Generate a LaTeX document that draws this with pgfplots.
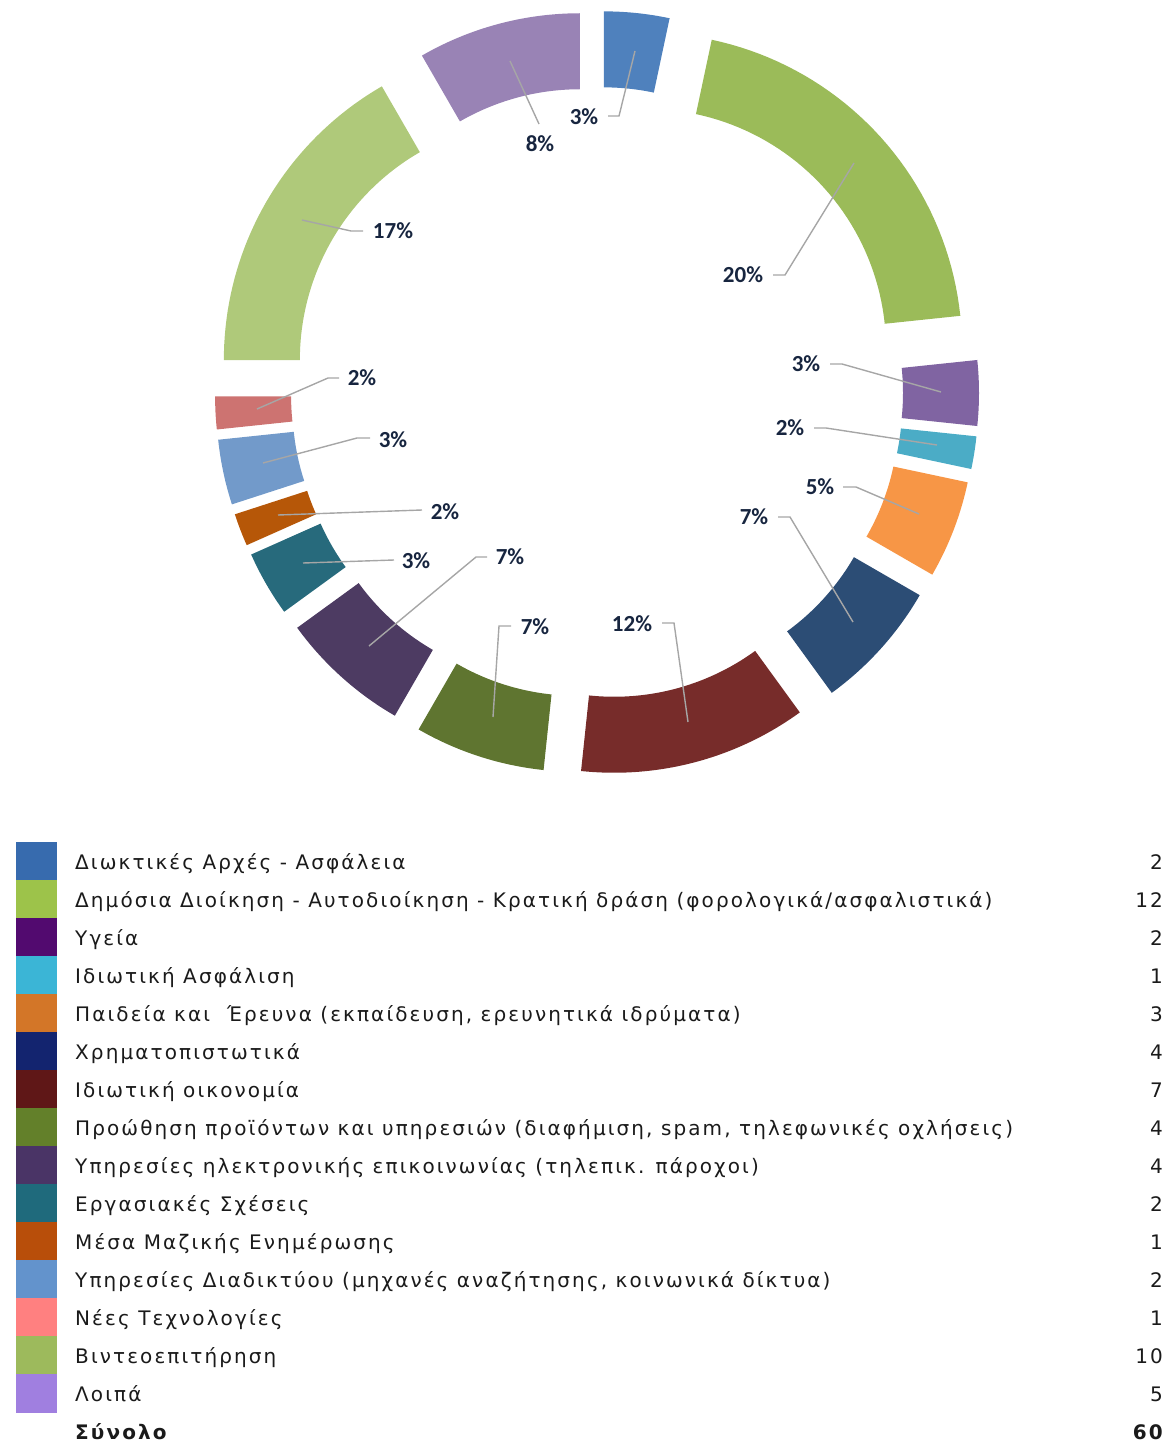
\documentclass[border=0pt]{standalone}
\usepackage{pgfplots}
\pgfplotsset{compat=1.18}
\usepackage{fontspec}
\setmainfont{DejaVu Sans}[LetterSpace=10.5]
\newfontfamily\lblfont{Carlito}
\definecolor{c1}{HTML}{4F81BD}
\definecolor{c2}{HTML}{9BBB59}
\definecolor{c3}{HTML}{8064A2}
\definecolor{c4}{HTML}{4BACC6}
\definecolor{c5}{HTML}{F79646}
\definecolor{c6}{HTML}{2C4D75}
\definecolor{c7}{HTML}{772C2A}
\definecolor{c8}{HTML}{5F7530}
\definecolor{c9}{HTML}{4D3B62}
\definecolor{c10}{HTML}{276A7C}
\definecolor{c11}{HTML}{B65708}
\definecolor{c12}{HTML}{729ACA}
\definecolor{c13}{HTML}{CD7371}
\definecolor{c14}{HTML}{AFC97A}
\definecolor{c15}{HTML}{9983B5}
\definecolor{l1}{HTML}{376BAE}
\definecolor{l2}{HTML}{9DC34A}
\definecolor{l3}{HTML}{520A6F}
\definecolor{l4}{HTML}{3BB5D6}
\definecolor{l5}{HTML}{D37628}
\definecolor{l6}{HTML}{13246F}
\definecolor{l7}{HTML}{5F1717}
\definecolor{l8}{HTML}{63802A}
\definecolor{l9}{HTML}{4A3466}
\definecolor{l10}{HTML}{1F6A7C}
\definecolor{l11}{HTML}{B84E0A}
\definecolor{l12}{HTML}{6393CC}
\definecolor{l13}{HTML}{FF8080}
\definecolor{l14}{HTML}{9DBA5C}
\definecolor{l15}{HTML}{A07FE0}
\definecolor{lbl}{HTML}{17253F}
\definecolor{leader}{HTML}{A6A6A6}
\definecolor{txt}{HTML}{1A1A1A}
% #1 = cumulative count before the slice, #2 = count of the slice (total 60 -> 6 degrees each)
\newcommand\seg[3]{%
\addplot[draw=none, fill=#3, variable=\t, samples at={0,1,...,40,50,51,...,90}]
 ({597 + 66*sin(6*(#1+#2/2)) + ((\t<45) ? 316 : 240)*sin(6*((\t<45) ? (#1+#2*\t/40) : (#1+#2-#2*(\t-50)/40)))},
  {393 - 66*cos(6*(#1+#2/2)) - ((\t<45) ? 316 : 240)*cos(6*((\t<45) ? (#1+#2*\t/40) : (#1+#2-#2*(\t-50)/40)))});
}
\newcommand\pct[3]{\node[font=\lblfont\bfseries\fontsize{23}{23}\selectfont, text=lbl] at (axis cs:#1,#2) {#3\%};}
\newcommand\legrow[4]{% row index, colour, text, value
\addplot[draw=none, fill=#2] coordinates {(16,{842+38*(#1-1)-0.5}) (57,{842+38*(#1-1)-0.5}) (57,{842+38*#1+0.5}) (16,{842+38*#1+0.5})};
\node[anchor=base west, font=\fontsize{20}{20}\selectfont, text=txt, inner sep=0pt] at (axis cs:75,{869+38*(#1-1)}) {#3};
\node[anchor=base east, font=\fontsize{20}{20}\selectfont, text=txt, inner sep=0pt] at (axis cs:1163,{869+38*(#1-1)}) {#4};
}
\begin{document}
\begin{tikzpicture}
\begin{axis}[scale only axis, width=1167pt, height=1445pt,
  xmin=0, xmax=1167, ymin=0, ymax=1445, y dir=reverse,
  hide axis, clip=false]
\seg{0}{2}{c1}
\seg{2}{12}{c2}
\seg{14}{2}{c3}
\seg{16}{1}{c4}
\seg{17}{3}{c5}
\seg{20}{4}{c6}
\seg{24}{7}{c7}
\seg{31}{4}{c8}
\seg{35}{4}{c9}
\seg{39}{2}{c10}
\seg{41}{1}{c11}
\seg{42}{2}{c12}
\seg{44}{1}{c13}
\seg{45}{10}{c14}
\seg{55}{5}{c15}
% leader lines
\addplot[leader, line width=1.4pt] coordinates {(608,116) (619,116) (635,51)};
\addplot[leader, line width=1.4pt] coordinates {(539,124) (510,61)};
\addplot[leader, line width=1.4pt] coordinates {(773,275) (785,275) (854,163)};
\addplot[leader, line width=1.4pt] coordinates {(363,231) (351,231) (302,220)};
\addplot[leader, line width=1.4pt] coordinates {(830,364) (842,364) (941,392)};
\addplot[leader, line width=1.4pt] coordinates {(814,428) (826,428) (937,445)};
\addplot[leader, line width=1.4pt] coordinates {(843,487) (856,487) (919,514)};
\addplot[leader, line width=1.4pt] coordinates {(778,517) (790,517) (853,622)};
\addplot[leader, line width=1.4pt] coordinates {(662,623) (674,623) (688,722)};
\addplot[leader, line width=1.4pt] coordinates {(511,626) (499,626) (493,717)};
\addplot[leader, line width=1.4pt] coordinates {(487,557) (476,557) (369,646)};
\addplot[leader, line width=1.4pt] coordinates {(394,560) (303,563)};
\addplot[leader, line width=1.4pt] coordinates {(422,510) (278,515)};
\addplot[leader, line width=1.4pt] coordinates {(370,438) (357,438) (263,463)};
\addplot[leader, line width=1.4pt] coordinates {(339,378) (328,378) (257,409)};
% percentage labels
\pct{584}{117}{3}
\pct{540}{144}{8}
\pct{743}{275}{20}
\pct{393}{231}{17}
\pct{806}{364}{3}
\pct{790}{428}{2}
\pct{820}{487}{5}
\pct{754}{517}{7}
\pct{632}{624}{12}
\pct{535}{627}{7}
\pct{510}{557}{7}
\pct{416}{561}{3}
\pct{445}{512}{2}
\pct{393}{440}{3}
\pct{362}{378}{2}
% legend table
\legrow{1}{l1}{Διωκτικές Αρχές - Ασφάλεια}{2}
\legrow{2}{l2}{Δημόσια Διοίκηση - Αυτοδιοίκηση - Κρατική δράση (φορολογικά/ασφαλιστικά)}{12}
\legrow{3}{l3}{Υγεία}{2}
\legrow{4}{l4}{Ιδιωτική Ασφάλιση}{1}
\legrow{5}{l5}{Παιδεία και~ Έρευνα (εκπαίδευση, ερευνητικά ιδρύματα)}{3}
\legrow{6}{l6}{Χρηματοπιστωτικά}{4}
\legrow{7}{l7}{Ιδιωτική οικονομία}{7}
\legrow{8}{l8}{Προώθηση προϊόντων και υπηρεσιών (διαφήμιση, spam, τηλεφωνικές οχλήσεις)}{4}
\legrow{9}{l9}{Υπηρεσίες ηλεκτρονικής επικοινωνίας (τηλεπικ. πάροχοι)}{4}
\legrow{10}{l10}{Εργασιακές Σχέσεις}{2}
\legrow{11}{l11}{Μέσα Μαζικής Ενημέρωσης}{1}
\legrow{12}{l12}{Υπηρεσίες Διαδικτύου (μηχανές αναζήτησης, κοινωνικά δίκτυα)}{2}
\legrow{13}{l13}{Νέες Τεχνολογίες}{1}
\legrow{14}{l14}{Βιντεοεπιτήρηση}{10}
\legrow{15}{l15}{Λοιπά}{5}
\node[anchor=base west, font=\bfseries\fontsize{20}{20}\selectfont, text=txt, inner sep=0pt] at (axis cs:75,1439) {Σύνολο};
\node[anchor=base east, font=\bfseries\fontsize{20}{20}\selectfont, text=txt, inner sep=0pt] at (axis cs:1163,1439) {60};
\end{axis}
\path[use as bounding box] (current axis.south west) rectangle (current axis.north east);
\end{tikzpicture}
\end{document}
